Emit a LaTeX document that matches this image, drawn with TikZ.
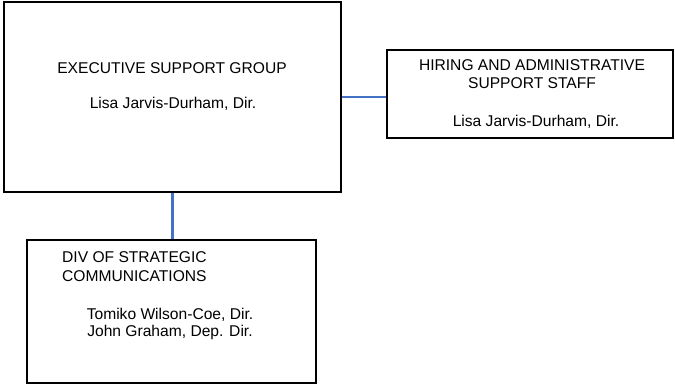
\documentclass[tikz,border=0pt]{standalone}
\usepackage{fontspec}
\setmainfont{Liberation Sans}
\definecolor{connblue}{RGB}{68,114,196}
\begin{document}
\begin{tikzpicture}[x=1pt,y=-1pt,
  orgbox/.style={draw=black,line width=2.8pt,rectangle,inner sep=0pt,fill=white},
  txt/.style={inner sep=0pt,anchor=base,font=\fontsize{15.6}{18}\selectfont},
  ltxt/.style={txt,anchor=base west},
  conn/.style={draw=connblue,line width=2.6pt}]
\useasboundingbox (0,0) rectangle (675,384);
\node[orgbox,minimum width=337pt,minimum height=190pt] (esg) at (172.5,97) {};
\node[orgbox,minimum width=286pt,minimum height=88pt] (has) at (530,94) {};
\node[orgbox,minimum width=289pt,minimum height=143pt] (dsc) at (171.5,311.5) {};
\draw[conn] (esg.east) -- (esg.east -| has.west);
\draw[conn] (esg.south) -- (esg.south |- dsc.north);
\node[txt] (esg1) at (172,73.7) {EXECUTIVE SUPPORT GROUP};
\node[txt] (esg2) at (173,108.7) {Lisa Jarvis-Durham, Dir.};
\node[txt] (has1) at (532,70.7) {HIRING AND ADMINISTRATIVE};
\node[txt] (has2) at (532,88.7) {SUPPORT STAFF};
\node[txt] (has3) at (536,126.2) {Lisa Jarvis-Durham, Dir.};
\node[ltxt] (dsc1) at (62,262.7) {DIV OF STRATEGIC};
\node[ltxt] (dsc2) at (62,281.2) {COMMUNICATIONS};
\node[txt] (dsc3) at (170,319.2) {Tomiko Wilson-Coe, Dir.};
\node[txt] (dsc4) at (170,336.7) {John Graham, Dep. Dir.};
\end{tikzpicture}
\end{document}
